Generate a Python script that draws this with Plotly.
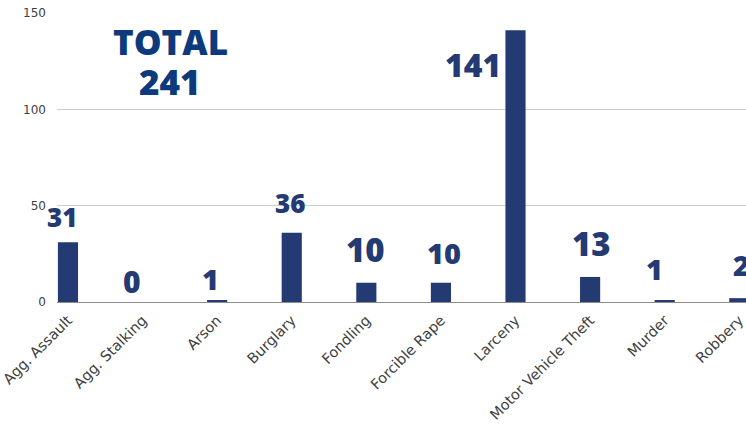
import plotly.graph_objects as go

categories = ["Agg. Assault", "Agg. Stalking", "Arson", "Burglary", "Fondling",
              "Forcible Rape", "Larceny", "Motor Vehicle Theft", "Murder", "Robbery"]
values = [31, 0, 1, 36, 10, 10, 141, 13, 1, 2]
total_shown = 241  # total as printed on the chart
y_ticks = [0, 50, 100, 150]

# label styling (pixel offsets / font sizes for the value labels)
label_sizes = [26, 30, 29, 26, 33, 29, 32, 33, 29, 28]
label_dx = [-6, -11, -7, -2, -1, 3, -43, 1, -10, 2]
label_dy = [25, 21, 22, 30, 33, 30, -34, 33, 32, 33]

BAR = "#233a73"
TOT = "#0c3a7b"
FONT = "Open Sans"
TICKFONT = "DejaVu Sans"

fig = go.Figure(go.Bar(x=categories, y=values, marker_color=BAR, width=0.27,
                       marker_line_width=0, hoverinfo="skip"))

for c, v, s, dx, dy in zip(categories, values, label_sizes, label_dx, label_dy):
    fig.add_annotation(x=c, y=v, xref="x", yref="y", text=str(v), showarrow=False,
                       xanchor="center", yanchor="middle", xshift=dx, yshift=dy,
                       font=dict(family=FONT, size=s, color=BAR, weight=800))

W, H = 746, 425
L, R, T, B = 57, 0, 13, 123
pw, ph = W - L - R, H - T - B

def px_to_paper(xp, yp):
    return (xp - L) / pw, 1 - (yp - T) / ph

for txt, yp in (("TOTAL", 41), (str(total_shown), 81)):
    xx, yy = px_to_paper(170, yp)
    fig.add_annotation(x=xx, y=yy, xref="paper", yref="paper", text=txt, showarrow=False,
                       xanchor="center", yanchor="middle",
                       font=dict(family=FONT, size=35, color=TOT, weight=800))

fig.update_layout(
    width=W, height=H,
    margin=dict(l=L, r=R, t=T, b=B),
    plot_bgcolor="white", paper_bgcolor="white",
    showlegend=False,
    font=dict(family=TICKFONT, size=13, color="#404040"),
    xaxis=dict(type="category", range=[-0.147, 9.09], tickangle=-45,
               showgrid=False, ticks="", showline=False, automargin=False,
               ticklabelstandoff=6,
               tickfont=dict(family=TICKFONT, size=14.5, color="#404040")),
    yaxis=dict(range=[0, 150], tickvals=y_ticks, showgrid=True, gridcolor="#cccccc",
               gridwidth=1, zeroline=True, zerolinecolor="#8c8c8c", zerolinewidth=1,
               ticks="", showline=False, ticklabelstandoff=10, automargin=False,
               tickfont=dict(family=TICKFONT, size=12, color="#404040")),
)

fig.write_html("out.html", config={"displayModeBar": False},
               post_script="document.body.style.margin='0';")
